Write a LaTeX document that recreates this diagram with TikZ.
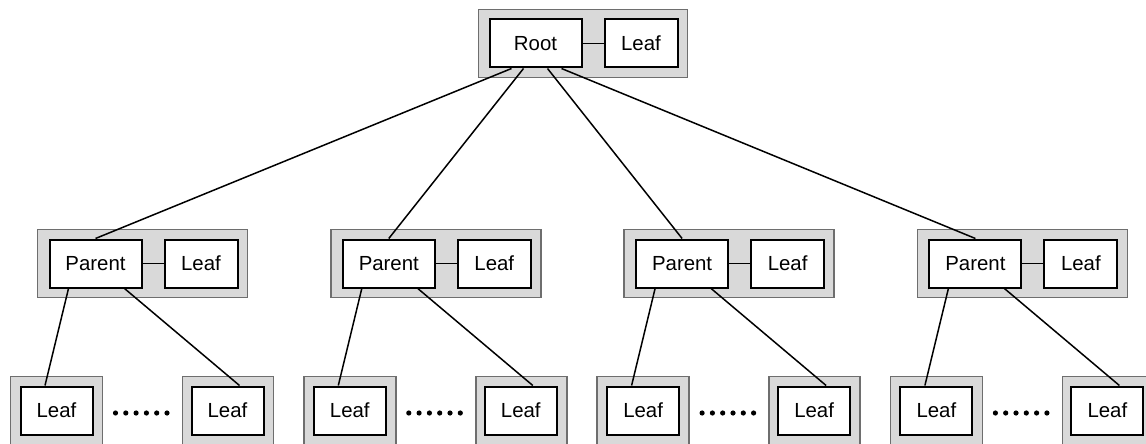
\documentclass[tikz,border=0pt]{standalone}
\usepackage{fontspec}
\setmainfont{Liberation Sans}
\definecolor{grpfill}{RGB}{217,217,217}
\definecolor{grpline}{RGB}{110,110,110}
\tikzset{
  grpbox/.style={draw=grpline, fill=grpfill, line width=0.7pt, minimum height=34pt, inner sep=0pt},
  keybox/.style={draw=black, fill=white, line width=1pt, minimum height=24pt, inner sep=0pt, font=\fontsize{10.2}{12}\selectfont},
  link/.style={line width=0.75pt}
}
\begin{document}
\begin{tikzpicture}[x=0.5pt, y=-0.5pt]
    \useasboundingbox (0,0) rectangle (1146,444);

    % Racine
    \node[grpbox, minimum width=104.5pt] (rootgrp) at (583,43.5) {};
    \node[keybox, minimum width=46pt] (root) at (535.5,43.5) {Root};
    \node[keybox, minimum width=36.5pt] (rootleaf) at (641,43.5) {Leaf};
    \draw[link] (root) -- (rootleaf);

    % Parents et feuilles
    \foreach \i in {1,...,4}{
        \pgfmathsetmacro{\dx}{293.3*(\i-1)}
        \node[grpbox, minimum width=105pt] (pgrp\i) at (\dx+142.5,263.5) {};
        \node[keybox, minimum width=46pt] (parent\i) at (\dx+95.5,263.5) {Parent};
        \node[keybox, minimum width=36.5pt] (pleaf\i) at (\dx+201,263.5) {Leaf};
        \draw[link] (parent\i) -- (pleaf\i);

        \node[grpbox, minimum width=46pt] (lgrp\i) at (\dx+56.5,410.5) {};
        \node[keybox, minimum width=36pt] (lleaf\i) at (\dx+56.5,410.5) {Leaf};
        \node[grpbox, minimum width=45.5pt] (rgrp\i) at (\dx+228,410.5) {};
        \node[keybox, minimum width=36pt] (rleaf\i) at (\dx+227.5,410.5) {Leaf};

        % Points de suspension
        \foreach \k in {0,...,5}
            \fill (\dx+115.5+10.3*\k,413) circle (2.6);

        \draw[link] ([xshift=-13.5pt]parent\i.south) -- ([xshift=-5.75pt]lleaf\i.north);
        \draw[link] ([xshift=14.5pt]parent\i.south) -- ([xshift=6pt]rleaf\i.north);
    }

    % Liens racine - parents
    \foreach \i/\s in {1/-12,2/-6,3/6,4/13}
        \draw[link] ([xshift=\s pt]root.south) -- (parent\i.north);
\end{tikzpicture}
\end{document}
